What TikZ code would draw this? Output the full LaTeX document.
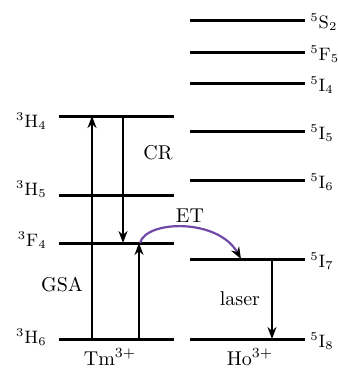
\documentclass[tikz,border=0pt]{standalone}
\usepackage{tikz}
\usetikzlibrary{arrows.meta}
\definecolor{etpurple}{RGB}{112,72,168}
\tikzset{
  level/.style={draw=black, line width=1.5pt},
  trans/.style={draw=black, line width=0.9pt, -{Stealth[length=6pt,width=4.5pt]}},
  leftlabel/.style={anchor=east, inner sep=0pt, font=\small},
  rightlabel/.style={anchor=west, inner sep=0pt, font=\small},
  figlabel/.style={font=\normalsize}
}
\begin{document}
\begin{tikzpicture}[x=0.5pt,y=-0.5pt]
  \useasboundingbox (0,0) rectangle (338,372);
  % Tm3+ levels
  \foreach \name/\yy in {h4/116, h5/195, f4/243, h6/339}{
    \coordinate (\name l) at (59,\yy);
    \coordinate (\name r) at (174,\yy);
    \draw[level] (\name l) -- (\name r);
  }
  % Ho3+ levels
  \foreach \name/\yy in {s2/20, f5/52, i4/83, i5/131, i6/180, i7/259, i8/339}{
    \coordinate (\name l) at (190,\yy);
    \coordinate (\name r) at (305,\yy);
    \draw[level] (\name l) -- (\name r);
  }
  \node[leftlabel] (lh4) at (47,121) {$^{3}$H$_{4}$};
  \node[leftlabel] (lh5) at (47,189) {$^{3}$H$_{5}$};
  \node[leftlabel] (lf4) at (47,240) {$^{3}$F$_{4}$};
  \node[leftlabel] (lh6) at (47,337) {$^{3}$H$_{6}$};
  \node[rightlabel] (ls2) at (310,22) {$^{5}$S$_{2}$};
  \node[rightlabel] (lf5) at (310,54) {$^{5}$F$_{5}$};
  \node[rightlabel] (li4) at (310,85) {$^{5}$I$_{4}$};
  \node[rightlabel] (li5) at (310,133) {$^{5}$I$_{5}$};
  \node[rightlabel] (li6) at (310,182) {$^{5}$I$_{6}$};
  \node[rightlabel] (li7) at (310,261) {$^{5}$I$_{7}$};
  \node[rightlabel] (li8) at (310,341) {$^{5}$I$_{8}$};
  % transitions
  \coordinate (gsa0) at (92,339);
  \coordinate (gsa1) at (92,116);
  \coordinate (cr0) at (123,116);
  \coordinate (cr1) at (123,243);
  \coordinate (up0) at (139,339);
  \coordinate (up1) at (139,243);
  \coordinate (et0) at (140,243);
  \coordinate (et1) at (241,259);
  \coordinate (las0) at (272,259);
  \coordinate (las1) at (272,339);
  \draw[trans] (gsa0) -- (gsa1);
  \draw[trans] (cr0) -- (cr1);
  \draw[trans] (up0) -- (up1);
  \draw[trans, draw=etpurple, line width=1.1pt, -{Stealth[length=6pt,width=4.5pt,color=black]}]
    (et0) .. controls (146,220) and (218,218) .. (et1);
  \draw[trans] (las0) -- (las1);
  \node[figlabel] (cr) at (158,153) {CR};
  \node[figlabel] (et) at (190,216) {ET};
  \node[figlabel] (gsa) at (62,285) {GSA};
  \node[figlabel] (laser) at (240,299) {laser};
  \node[figlabel] (tm) at (110,357) {Tm$^{3+}$};
  \node[figlabel] (ho) at (250,357) {Ho$^{3+}$};
\end{tikzpicture}
\end{document}
